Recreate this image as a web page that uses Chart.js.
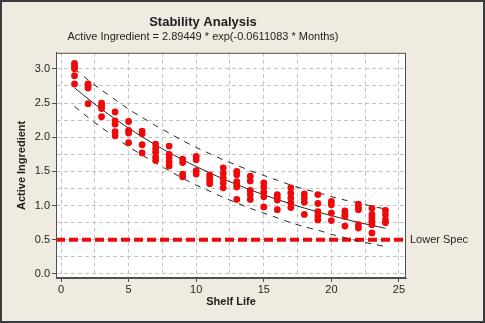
<!DOCTYPE html>
<html>
<head>
<meta charset="utf-8">
<title>Stability Analysis</title>
<script src="https://cdn.jsdelivr.net/npm/chart.js@4.4.1/dist/chart.umd.min.js"></script>
<style>
  html, body { margin: 0; padding: 0; background: #efebe1; }
  canvas { display: block; }
</style>
</head>
<body>
<canvas id="chart" width="485" height="323"></canvas>
<script>
// months on test and the assay results measured at each one
const months = [1, 2, 3, 4, 5, 6, 7, 8, 9, 10, 11, 12, 13, 14, 15, 16, 17, 18, 19, 20, 21, 22, 23, 24];
const readings = [
  [3.08, 3.04, 3.00, 2.90, 2.78],
  [2.78, 2.75, 2.72, 2.49],
  [2.50, 2.46, 2.42, 2.30],
  [2.37, 2.24, 2.19, 2.08, 2.02],
  [2.23, 2.10, 2.06, 1.92],
  [2.09, 2.05, 1.89, 1.77],
  [1.90, 1.84, 1.78, 1.71, 1.66],
  [1.87, 1.75, 1.70, 1.64, 1.58],
  [1.68, 1.63, 1.46, 1.42],
  [1.72, 1.67, 1.51, 1.46],
  [1.45, 1.41, 1.37, 1.32],
  [1.55, 1.47, 1.40, 1.33, 1.26],
  [1.50, 1.45, 1.35, 1.30, 1.27, 1.09],
  [1.43, 1.36, 1.22, 1.16, 1.09],
  [1.33, 1.27, 1.20, 1.13, 0.98],
  [1.16, 1.12, 1.08, 0.94],
  [1.26, 1.18, 1.11, 1.04, 0.97],
  [1.17, 1.11, 1.05, 0.87],
  [1.16, 1.03, 0.91, 0.85, 0.79],
  [1.06, 1.01, 0.89, 0.78],
  [0.92, 0.87, 0.84, 0.70],
  [1.02, 0.97, 0.94, 0.72, 0.67],
  [0.96, 0.87, 0.82, 0.77, 0.72, 0.60],
  [0.93, 0.87, 0.79, 0.75]
];

// fitted curve 2.89449 * exp(-0.0611083 * Months), one value per month
const fitted = [2.7229, 2.5615, 2.4097, 2.2668, 2.1325, 2.0060, 1.8871, 1.7753, 1.6700, 1.5710, 1.4779, 1.3903,
  1.3079, 1.2303, 1.1574, 1.0888, 1.0243, 0.9635, 0.9064, 0.8527, 0.8021, 0.7546, 0.7099, 0.6678];
// prediction band
const upperBand = [3.00, 2.84, 2.69, 2.55, 2.41, 2.29, 2.17, 2.06, 1.95, 1.85, 1.76, 1.67,
  1.59, 1.51, 1.44, 1.37, 1.30, 1.24, 1.19, 1.13, 1.08, 1.04, 0.99, 0.95];
const lowerBand = [2.45, 2.29, 2.14, 2.00, 1.86, 1.74, 1.62, 1.51, 1.40, 1.30, 1.21, 1.12,
  1.04, 0.96, 0.89, 0.82, 0.75, 0.69, 0.64, 0.58, 0.53, 0.48, 0.44, 0.40];

const lowerSpec = 0.5;
const xRange = [-0.37, 25.52];
const yRange = [-0.06, 3.235];
const xTicks = [0, 2.5, 5, 7.5, 10, 12.5, 15, 17.5, 20, 22.5, 25];
const yTicks = [0, 0.25, 0.5, 0.75, 1, 1.25, 1.5, 1.75, 2, 2.25, 2.5, 2.75, 3];

const FONT = "'Liberation Sans', Arial, sans-serif";
const INK = "#1e1e1e";

const points = [];
months.forEach((m, i) => readings[i].forEach(v => points.push({ x: m, y: v })));
const curve = arr => months.map((m, i) => ({ x: m, y: arr[i] }));

const isMajor = (v, step) => Math.abs(v / step - Math.round(v / step)) < 1e-6;

// white plot area, frame round it and the spec label on the right
const framePlugin = {
  id: "frame",
  beforeDraw(chart) {
    const { ctx, chartArea: a } = chart;
    ctx.save();
    ctx.fillStyle = "#efebe1";
    ctx.fillRect(0, 0, chart.width, chart.height);
    ctx.fillStyle = "#ffffff";
    ctx.fillRect(a.left, a.top, a.right - a.left, a.bottom - a.top);
    ctx.restore();
  },
  afterDraw(chart) {
    const { ctx, chartArea: a } = chart;
    ctx.save();
    ctx.strokeStyle = "#505050";
    ctx.lineWidth = 1;
    ctx.strokeRect(a.left + 0.5, a.top + 0.5, a.right - a.left - 1, a.bottom - a.top - 1);
    ctx.strokeStyle = "#3c3c3c";
    ctx.lineWidth = 2;
    ctx.strokeRect(1, 1, chart.width - 2, chart.height - 2);
    ctx.fillStyle = INK;
    ctx.font = "11px " + FONT;
    ctx.textBaseline = "middle";
    ctx.fillText("Lower Spec", a.right + 4, chart.scales.y.getPixelForValue(lowerSpec));
    ctx.restore();
  }
};

new Chart(document.getElementById("chart"), {
  type: "scatter",
  data: {
    datasets: [
      {
        label: "Active Ingredient",
        data: points,
        backgroundColor: "#ee0a0a",
        borderWidth: 0,
        pointRadius: 3.4
      },
      {
        type: "line",
        data: curve(fitted),
        borderColor: "#262626",
        borderWidth: 1,
        pointRadius: 0,
        tension: 0.3
      },
      {
        type: "line",
        data: curve(upperBand),
        borderColor: "#262626",
        borderWidth: 1,
        borderDash: [6, 6],
        pointRadius: 0,
        tension: 0.3
      },
      {
        type: "line",
        data: curve(lowerBand),
        borderColor: "#262626",
        borderWidth: 1,
        borderDash: [6, 6],
        pointRadius: 0,
        tension: 0.3
      },
      {
        type: "line",
        data: [{ x: xRange[0], y: lowerSpec }, { x: xRange[1], y: lowerSpec }],
        borderColor: "#ee0a0a",
        borderWidth: 4,
        borderDash: [9, 4],
        pointRadius: 0
      }
    ]
  },
  options: {
    responsive: false,
    animation: false,
    events: [],
    layout: { padding: { left: 0, right: 79, top: 0, bottom: 0 } },
    plugins: {
      legend: { display: false },
      tooltip: { enabled: false },
      title: {
        display: true,
        text: "Stability Analysis",
        color: INK,
        font: { family: FONT, size: 13, weight: "bold" },
        padding: { top: 15, bottom: 0 }
      },
      subtitle: {
        display: true,
        text: "Active Ingredient = 2.89449 * exp(-0.0611083 * Months)",
        color: INK,
        font: { family: FONT, size: 11 },
        padding: { top: 0, bottom: 9 }
      }
    },
    scales: {
      x: {
        type: "linear",
        min: xRange[0],
        max: xRange[1],
        afterBuildTicks: axis => { axis.ticks = xTicks.map(v => ({ value: v })); },
        afterFit: axis => { axis.height = 45; },
        ticks: {
          autoSkip: false,
          maxRotation: 0,
          padding: 1,
          color: INK,
          font: { family: FONT, size: 11 },
          callback: v => (isMajor(v, 5) ? String(v) : "")
        },
        grid: {
          color: "#c4c4c4",
          tickLength: 4,
          tickColor: c => (c.tick && isMajor(c.tick.value, 5) ? "#505050" : "rgba(0,0,0,0)")
        },
        border: { display: true, color: "#505050", dash: [4, 3] },
        title: {
          display: true,
          text: "Shelf Life",
          color: INK,
          font: { family: FONT, size: 11, weight: "bold" },
          padding: { top: 0, bottom: 14 }
        }
      },
      y: {
        type: "linear",
        min: yRange[0],
        max: yRange[1],
        afterBuildTicks: axis => { axis.ticks = yTicks.map(v => ({ value: v })); },
        afterFit: axis => { axis.width = 56; },
        ticks: {
          autoSkip: false,
          padding: 2,
          color: INK,
          font: { family: FONT, size: 11 },
          callback: v => (isMajor(v, 0.5) ? v.toFixed(1) : "")
        },
        grid: {
          color: "#c4c4c4",
          tickLength: 4,
          tickColor: c => (c.tick && isMajor(c.tick.value, 0.5) ? "#505050" : "rgba(0,0,0,0)")
        },
        border: { display: true, color: "#505050", dash: [4, 3] },
        title: {
          display: true,
          text: "Active Ingredient",
          color: INK,
          font: { family: FONT, size: 11, weight: "bold" },
          padding: { top: 15, bottom: 0 }
        }
      }
    }
  },
  plugins: [framePlugin]
});
</script>
</body>
</html>
